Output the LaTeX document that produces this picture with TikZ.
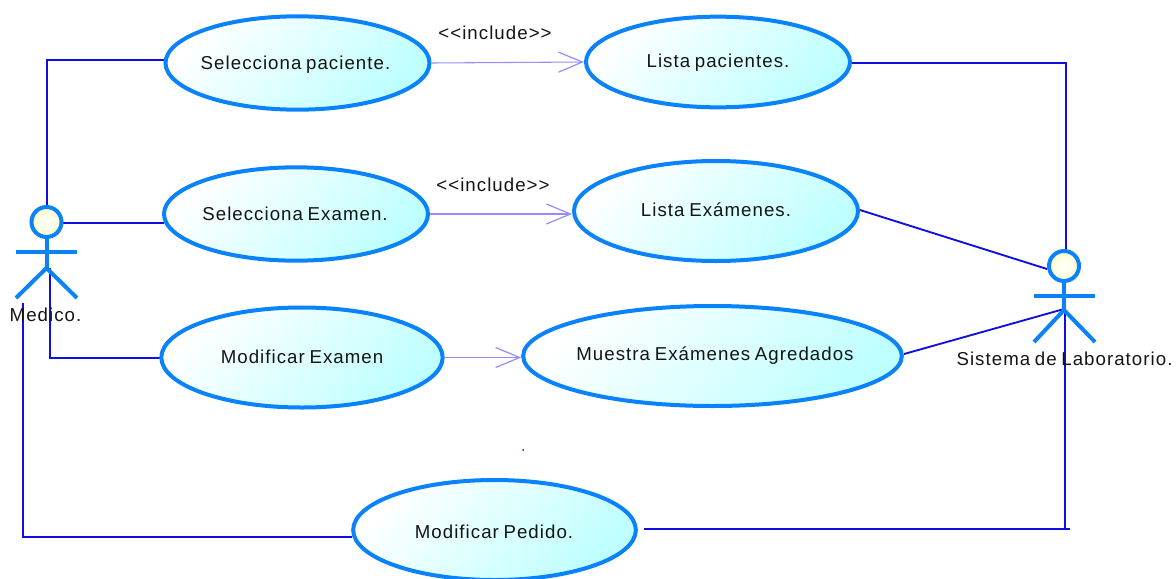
\documentclass[tikz,border=0pt]{standalone}
\usepackage{fontspec}
\setmainfont[LetterSpace=5.6,WordSpace=0.75]{Liberation Sans}
\usetikzlibrary{arrows.meta,shapes.geometric}
\definecolor{umlblue}{RGB}{10,130,250}
\definecolor{wireblue}{RGB}{15,15,225}
\definecolor{incl}{RGB}{150,140,255}
\definecolor{headfill}{RGB}{255,255,205}
\definecolor{casefill}{RGB}{190,255,255}
\tikzset{
  x=0.75pt,y=-0.75pt,
  every node/.style={font=\fontsize{14pt}{16pt}\selectfont,text=black!92,inner sep=0pt},
  usecase/.style={ellipse,draw=umlblue,line width=3pt,top color=white,bottom color=casefill,shading angle=45},
  wire/.style={draw=wireblue,line width=1.4pt},
  incarrow/.style={draw=incl,line width=0.8pt,-{Straight Barb[length=18pt,width=15pt,line width=0.9pt]}},
  limb/.style={draw=umlblue,line width=3pt},
  headc/.style={circle,draw=umlblue,line width=3pt,inner color=white,outer color=headfill,minimum size=22.5pt},
  lbl/.style={anchor=center,text height=10pt,text depth=0pt}
}
\begin{document}
\begin{tikzpicture}
\useasboundingbox (0,0) rectangle (1176,578);
% anchor points
\coordinate (mTop) at (47,60);
\coordinate (mLow) at (50,268);
\coordinate (mCorner) at (50,358);
\coordinate (pTop) at (23,303);
\coordinate (pCorner) at (23,537);
\coordinate (rTop) at (1066,63);
\coordinate (rHip) at (1064,309);
\coordinate (rMid) at (1065,310);
\coordinate (rBot) at (1065,529);
\coordinate (rEnd) at (1070,529);
\coordinate (rStart) at (644,529);
\coordinate (dotA) at (523,450);
% wires under shapes
\draw[wire] (47,206) coordinate (mHeadTop) -- (mTop) -- (164,60) coordinate (spIn);
\draw[wire] (62,223) coordinate (mHeadR) -- (164,223) coordinate (seIn);
\draw[wire] (mLow) -- (mCorner) -- (160,358) coordinate (meIn);
\draw[wire] (pTop) -- (pCorner) -- (352,537) coordinate (mpIn);
\draw[wire] (851,63) coordinate (lpOut) -- (rTop) -- (1066,250) coordinate (rHeadTop);
\draw[wire] (860,210) coordinate (leOut) -- (1047,269) coordinate (rHeadL);
\draw[wire] (904,354) coordinate (muOut) -- (rHip);
\draw[wire] (rMid) -- (rBot);
\draw[wire] (rStart) -- (rEnd);
\fill[wireblue] (dotA) circle[radius=1];
% use cases
\node[usecase,minimum width=198pt,minimum height=70pt] (sp) at (297.5,63) {};
\node[usecase,minimum width=198pt,minimum height=68pt] (lp) at (718,62) {};
\node[usecase,minimum width=198pt,minimum height=70pt] (se) at (296,214) {};
\node[usecase,minimum width=213pt,minimum height=75pt] (le) at (716,211) {};
\node[usecase,minimum width=211pt,minimum height=75pt] (me) at (302,357.5) {};
\node[usecase,minimum width=284pt,minimum height=75pt] (mu) at (712.5,356) {};
\node[usecase,minimum width=212pt,minimum height=75pt] (mp) at (494.5,530) {};
\node[lbl] (spT) at (295.5,63) {Selecciona paciente.};
\node[lbl] (lpT) at (718,61) {Lista pacientes.};
\node[lbl] (seT) at (295,214) {Selecciona Examen.};
\node[lbl] (leT) at (716,210) {Lista Exámenes.};
\node[lbl] (meT) at (302,357) {Modificar Examen};
\node[lbl] (muT) at (715,354) {Muestra Exámenes Agredados};
\node[lbl] (mpT) at (494,532) {Modificar Pedido.};
% include arrows
\draw[incarrow] (sp.east) -- (lp.west);
\draw[incarrow] (se.east) -- (se.east -| le.west);
\draw[incarrow] (me.east) -- (me.east -| mu.west);
\node[lbl] (inc1) at (495,33) {{<}{<}include{>}{>}};
\node[lbl] (inc2) at (493,185) {{<}{<}include{>}{>}};
% actor Medico
\node[headc] (mh) at (46.5,222) {};
\draw[limb] (mh.south) -- (46.5,268) coordinate (mHip);
\draw[limb] (16,252) -- (77,252);
\draw[limb] (16,298) -- (mHip) -- (77,298);
\node[lbl] (mName) at (45.5,315) {Medico.};
% actor Sistema
\node[headc] (sh) at (1064,266) {};
\draw[limb] (sh.south) -- (1064,310) coordinate (sHip);
\draw[limb] (1034,296) -- (1095,296);
\draw[limb] (1034,342) -- (sHip) -- (1095,342);
\node[lbl] (sName) at (1064.5,359) {Sistema de Laboratorio.};
\end{tikzpicture}
\end{document}
